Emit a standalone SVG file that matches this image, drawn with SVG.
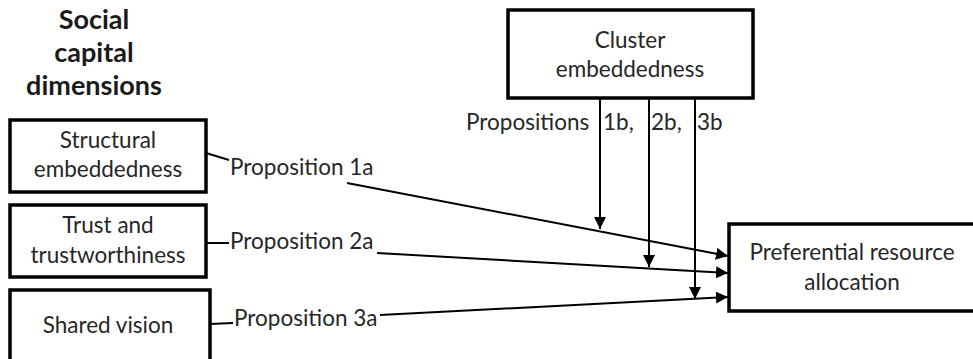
<svg xmlns="http://www.w3.org/2000/svg" width="973" height="359" viewBox="0 0 973 359">
<style>
.box{fill:#fff;stroke:#000;stroke-width:3.5}
.t{font-family:Lato,"Liberation Sans",sans-serif;font-size:22.5px;fill:#262626;text-anchor:middle}
.l{font-family:Lato,"Liberation Sans",sans-serif;font-size:22.5px;fill:#262626}
.h{font-family:Lato,"Liberation Sans",sans-serif;font-size:27px;font-weight:bold;fill:#1a1a1a;text-anchor:middle}
.c{fill:none;stroke:#000;stroke-width:2}
</style>
<defs>
<marker id="ah" markerUnits="userSpaceOnUse" markerWidth="12" markerHeight="12" viewBox="0 0 12 12" refX="12" refY="6" orient="auto">
<path d="M0,0 L12,6 L0,12 Z" fill="#000"/>
</marker>
</defs>
<g id="title">
<text class="h" x="94" y="29">Social</text>
<text class="h" x="94" y="62">capital</text>
<text class="h" x="94" y="95">dimensions</text>
</g>
<g id="structural">
<rect class="box" x="10" y="120" width="196" height="72"/>
<text class="t" x="108" y="148">Structural</text>
<text class="t" x="108" y="177">embeddedness</text>
</g>
<g id="trust">
<rect class="box" x="10" y="205" width="196" height="72"/>
<text class="t" x="108" y="233">Trust and</text>
<text class="t" x="108" y="263">trustworthiness</text>
</g>
<g id="shared">
<rect class="box" x="10" y="290" width="200" height="80"/>
<text class="t" x="108" y="333">Shared vision</text>
</g>
<g id="cluster">
<rect class="box" x="508" y="10" width="245" height="88"/>
<text class="t" x="630" y="48">Cluster</text>
<text class="t" x="630" y="77">embeddedness</text>
</g>
<g id="preferential">
<rect class="box" x="729" y="224" width="250" height="87"/>
<text class="t" x="852" y="260">Preferential resource</text>
<text class="t" x="852" y="290">allocation</text>
</g>
<g id="connectors">
<line class="c" x1="206" y1="153" x2="229" y2="160"/>
<line class="c" x1="347" y1="183" x2="728" y2="256" marker-end="url(#ah)"/>
<line class="c" x1="206" y1="243" x2="229" y2="243"/>
<line class="c" x1="377" y1="253" x2="728" y2="273" marker-end="url(#ah)"/>
<line class="c" x1="210" y1="324" x2="233" y2="323"/>
<line class="c" x1="380" y1="315" x2="728" y2="297" marker-end="url(#ah)"/>
<line class="c" x1="600" y1="98" x2="600" y2="229" marker-end="url(#ah)"/>
<line class="c" x1="649" y1="98" x2="649" y2="267" marker-end="url(#ah)"/>
<line class="c" x1="695" y1="98" x2="695" y2="299" marker-end="url(#ah)"/>
</g>
<g id="labels">
<text class="l" x="230" y="175">Proposition 1a</text>
<text class="l" x="230" y="249">Proposition 2a</text>
<text class="l" x="234" y="326">Proposition 3a</text>
<text class="l" x="466" y="130">Propositions</text>
<text class="l" x="603" y="130">1b,</text>
<text class="l" x="651" y="130">2b,</text>
<text class="l" x="697" y="130">3b</text>
</g>
</svg>
